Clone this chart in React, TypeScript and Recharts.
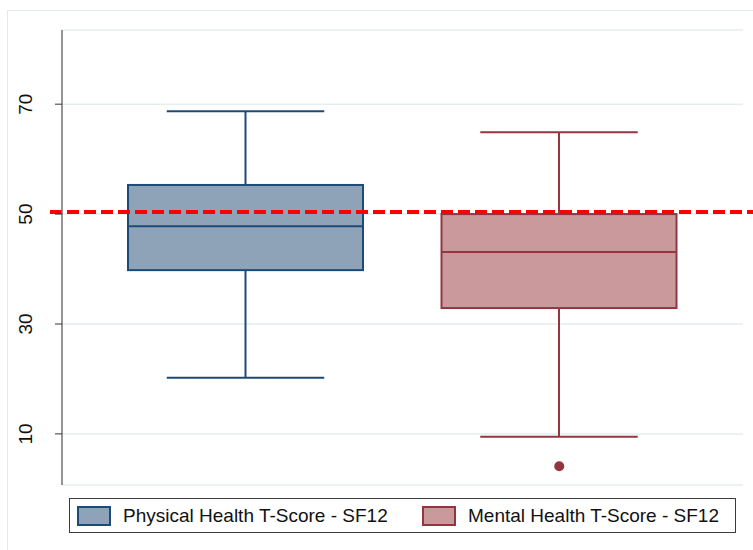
import React from 'react'
import { ComposedChart, Bar, Scatter, XAxis, YAxis, CartesianGrid, ReferenceLine, Legend } from 'recharts'

// values
const groups = ['Physical Health T-Score - SF12', 'Mental Health T-Score - SF12']
const lowerWhisker = [20.2, 9.5]
const quartile1 = [39.8, 32.9]
const medians = [47.8, 43.1]
const quartile3 = [55.3, 50.0]
const upperWhisker = [68.7, 64.9]
const outlierGroup = ['Mental Health T-Score - SF12']
const outlierValue = [4.1]
const referenceValue = 50.4
const yTicks = [10, 30, 50, 70]

const boxFill = ['#8ea3b8', '#c9999b']
const boxStroke = ['#1d4b78', '#933640']
const font = '"Liberation Sans", Arial, sans-serif'

const rows = groups.map((name, i) => ({
   name,
   box: [quartile1[i], quartile3[i]],
   low: lowerWhisker[i],
   median: medians[i],
   high: upperWhisker[i],
}))

const outliers = outlierGroup.map((name, i) => ({ name, value: outlierValue[i] }))

const BoxShape = (props: any) => {
   const { x, y, width, height, payload, index } = props
   const [lo, hi] = payload.box
   const k = height / (hi - lo)
   const yAt = (v: number) => y + (hi - v) * k
   const cx = x + width / 2
   const cap = width * 0.335
   const stroke = boxStroke[index]
   return (
      <g>
         <line x1={cx} x2={cx} y1={yAt(payload.high)} y2={y} stroke={stroke} strokeWidth={2} />
         <line x1={cx} x2={cx} y1={y + height} y2={yAt(payload.low)} stroke={stroke} strokeWidth={2} />
         <line x1={cx - cap} x2={cx + cap} y1={yAt(payload.high)} y2={yAt(payload.high)} stroke={stroke} strokeWidth={2} />
         <line x1={cx - cap} x2={cx + cap} y1={yAt(payload.low)} y2={yAt(payload.low)} stroke={stroke} strokeWidth={2} />
         <rect x={x} y={y} width={width} height={height} fill={boxFill[index]} stroke={stroke} strokeWidth={2} />
         <line x1={x} x2={x + width} y1={yAt(payload.median)} y2={yAt(payload.median)} stroke={stroke} strokeWidth={2} />
      </g>
   )
}

const OutlierDot = (props: any) => {
   const { cx, cy } = props
   if (!Number.isFinite(cx) || !Number.isFinite(cy)) return null
   return <circle cx={cx} cy={cy} r={5} fill={boxStroke[1]} />
}

const YTick = (props: any) => {
   const { x, y, payload } = props
   const bx = x - 21
   return (
      <text
         x={bx}
         y={y}
         transform={`rotate(-90 ${bx} ${y})`}
         textAnchor='middle'
         fontSize={19}
         fontFamily={font}
         fill='#111'
      >
         {payload.value}
      </text>
   )
}

const RedLine = (props: any) => {
   const { x1, x2, y1 } = props
   return (
      <line x1={x1 - 12} x2={x2 + 12} y1={y1} y2={y1} stroke='#ff0000' strokeWidth={4} strokeDasharray='12 5' />
   )
}

const BoxLegend = () => (
   <div
      style={{
         position: 'relative',
         width: 667,
         height: 35,
         boxSizing: 'border-box',
         border: '1px solid #3c3c3c',
         background: '#fff',
         fontFamily: font,
         fontSize: 19,
         color: '#111',
      }}
   >
      {groups.map((g, i) => (
         <div
            key={g}
            style={{ position: 'absolute', left: i === 0 ? 7 : 352, top: 7, display: 'flex', alignItems: 'center', whiteSpace: 'nowrap' }}
         >
            <span
               style={{
                  display: 'inline-block',
                  width: 34,
                  height: 20,
                  boxSizing: 'border-box',
                  background: boxFill[i],
                  border: `2px solid ${boxStroke[i]}`,
                  marginRight: 12,
               }}
            />
            <span style={{ lineHeight: '20px' }}>{g}</span>
         </div>
      ))}
   </div>
)

const App: React.FC = () => (
   <div style={{ position: 'absolute', left: 0, top: 0, width: 753, height: 550, overflow: 'hidden', background: '#fff' }}>
      <div
         style={{
            position: 'absolute',
            left: 7,
            top: 10,
            width: 780,
            height: 580,
            border: '1px solid #e3eaee',
         }}
      />
      <div style={{ position: 'absolute', left: 0, top: 0 }}>
         <ComposedChart width={753} height={550} data={rows} margin={{ top: 30, right: 10, left: 0, bottom: 30 }}>
            <CartesianGrid vertical={false} stroke='#e6edf1' strokeWidth={1.5} />
            <XAxis
               dataKey='name'
               type='category'
               allowDuplicatedCategory={false}
               tick={false}
               tickLine={false}
               height={0}
               padding={{ left: 27, right: 27 }}
               axisLine={{ stroke: '#555', strokeWidth: 1.2 }}
            />
            <YAxis
               type='number'
               domain={[0.7, 83.5]}
               ticks={yTicks}
               width={62}
               tickSize={7}
               tick={<YTick />}
               tickLine={{ stroke: '#333' }}
               axisLine={{ stroke: '#707070', strokeWidth: 1.5 }}
               allowDataOverflow
            />
            <Bar dataKey='box' barSize={235} shape={<BoxShape />} isAnimationActive={false} />
            <Scatter data={outliers} dataKey='value' shape={<OutlierDot />} isAnimationActive={false} />
            <ReferenceLine y={referenceValue} shape={<RedLine />} />
            <Legend content={<BoxLegend />} wrapperStyle={{ left: 69, top: 498, width: 667, height: 35 }} />
         </ComposedChart>
      </div>
   </div>
)

export default App
